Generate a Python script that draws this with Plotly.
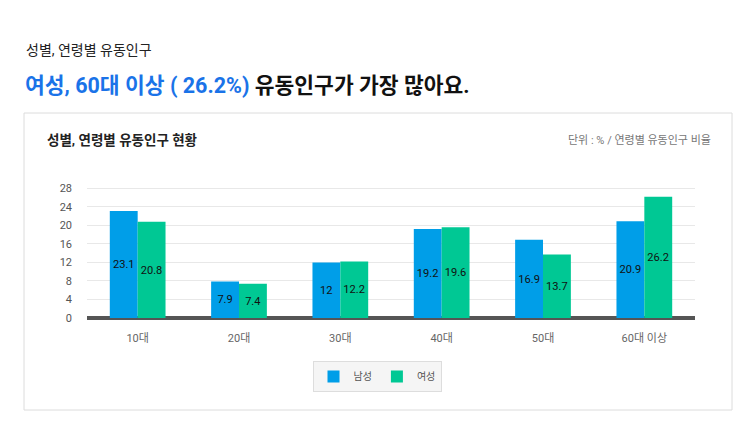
import plotly.graph_objects as go

categories = ["10대", "20대", "30대", "40대", "50대", "60대 이상"]
male = [23.1, 7.9, 12, 19.2, 16.9, 20.9]
female = [20.8, 7.4, 12.2, 19.6, 13.7, 26.2]
yticks = [0, 4, 8, 12, 16, 20, 24, 28]

OFF = 8  # page body margin
W, H = 740, 440
L, R, T = 87 - OFF, 53, 187 - OFF
B = H - (318 - OFF)
pw, ph = W - L - R, H - T - B

def px(x):
    return (x - OFF - L) / pw

def py(y):
    return (H - B - (y - OFF)) / ph

FONT = "Roboto, 'Noto Sans CJK KR', sans-serif"

fig = go.Figure()
for name, vals, col in [("남성", male, "#009ee8"), ("여성", female, "#00c894")]:
    fig.add_bar(x=categories, y=vals, name=name, marker_color=col, marker_line_width=0,
                text=[str(v) for v in vals], textposition="inside", insidetextanchor="middle",
                textangle=0, textfont=dict(color="#111", size=12))

fig.update_layout(
    width=W, height=H, margin=dict(l=L, r=R, t=T, b=B),
    paper_bgcolor="white", plot_bgcolor="white",
    font=dict(family=FONT, color="#666", size=11),
    barmode="group", bargap=0.45, bargroupgap=0,
    uniformtext=dict(mode="show", minsize=10),
    xaxis=dict(showgrid=False, ticks="", ticklabelstandoff=12, tickfont=dict(size=11, color="#666")),
    yaxis=dict(range=[0, 28.3], tickvals=yticks, gridcolor="#e8e8e8", zeroline=True,
               zerolinecolor="#555", zerolinewidth=4, tickfont=dict(size=11, color="#555"),
               ticklabelstandoff=14),
    legend=dict(orientation="h", x=px(377), y=py(361), xanchor="center", yanchor="top",
                bgcolor="#f5f5f5", bordercolor="#ddd", borderwidth=1,
                font=dict(size=10, color="#555"), itemwidth=30, tracegroupgap=0),
    showlegend=True,
)

fig.add_shape(type="rect", xref="paper", yref="paper", x0=px(24), x1=px(732), y0=py(410), y1=py(113),
              line=dict(color="#dcdcdc", width=1), fillcolor="rgba(0,0,0,0)", layer="below")

fig.add_annotation(xref="paper", yref="paper", x=px(24), y=py(50), xanchor="left", yanchor="middle",
                   text="성별, 연령별 유동인구", showarrow=False, font=dict(size=14, color="#222"))
fig.add_annotation(xref="paper", yref="paper", x=px(23), y=py(85), xanchor="left", yanchor="middle",
                   text="<b><span style='color:#1a73e8'>여성, 60대 이상 ( 26.2%)</span> 유동인구가 가장 많아요.</b>",
                   showarrow=False, font=dict(size=21.5, color="#111"))
fig.add_annotation(xref="paper", yref="paper", x=px(45), y=py(140), xanchor="left", yanchor="middle",
                   text="<b>성별, 연령별 유동인구 현황</b>", showarrow=False, font=dict(size=13.5, color="#222"))
fig.add_annotation(xref="paper", yref="paper", x=px(713), y=py(140), xanchor="right", yanchor="middle",
                   text="단위 : % / 연령별 유동인구 비율", showarrow=False, font=dict(size=11, color="#777"))

fig.write_html("out.html")
